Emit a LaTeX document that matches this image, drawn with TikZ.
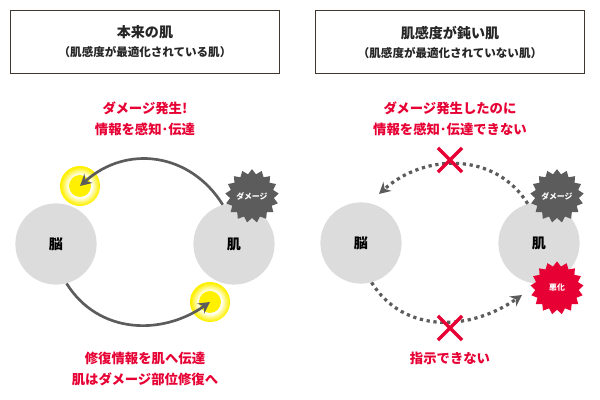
\documentclass[tikz,border=0pt]{standalone}
\usepackage{fontspec}
\setmainfont{Noto Sans CJK JP}
\usepackage{xcolor}
\usetikzlibrary{shapes.geometric, shapes.misc, arrows.meta}
\definecolor{alertred}{HTML}{E60033}
\definecolor{boxline}{HTML}{40372F}
\definecolor{organgray}{HTML}{DCDCDC}
\definecolor{burstgray}{HTML}{5C5C5C}
\definecolor{glowyellow}{HTML}{FFF000}
\pgfdeclareradialshading{glowfade}{\pgfpointorigin}{color(0bp)=(white); color(14bp)=(white); color(24bp)=(glowyellow); color(50bp)=(glowyellow)}
\tikzset{
  titlebox/.style={draw=boxline, line width=0.8pt, minimum width=6.725cm, minimum height=1.575cm, inner sep=0pt, align=center, text=black!85},
  redtext/.style={text=alertred, font=\fontsize{9.5}{12}\selectfont\bfseries, inner sep=0pt},
  organ/.style={circle, fill=organgray, minimum size=2.03cm, inner sep=0pt, font=\fontsize{10}{12}\selectfont\bfseries},
  burst/.style={star, star points=17, star point ratio=1.22, fill=#1, minimum size=1.33cm, inner sep=0pt, text=white, font=\fontsize{5.6}{7}\selectfont\bfseries},
  glowring/.style={circle, shade, shading=glowfade, minimum size=1cm, inner sep=0pt},
  glowcore/.style={circle, fill=glowyellow, minimum size=0.55cm, inner sep=0pt},
  solidarrow/.style={line width=1.9pt, draw=burstgray, -{Stealth[length=8pt, width=8.5pt]}},
  dotarrow/.style={line width=2.3pt, draw=burstgray, dash pattern=on 2.3pt off 2.6pt, -{Stealth[length=8pt, width=8.5pt]}},
  crossmark/.style={cross out, draw=alertred, line width=2.4pt, minimum size=0.52cm, inner sep=0pt}
}
\begin{document}
\begin{tikzpicture}[x=0.025cm, y=0.025cm]
    \useasboundingbox (0, 0) rectangle (600, 400);

    \node[titlebox] (boxL) at (145, 358) {{\fontsize{10}{12}\selectfont\bfseries 本来の肌}\\[1.5pt]{\fontsize{8.2}{10}\selectfont\bfseries （肌感度が最適化されている肌）}};
    \node[titlebox] (boxR) at (450, 358) {{\fontsize{10}{12}\selectfont\bfseries 肌感度が鈍い肌}\\[1.5pt]{\fontsize{8.2}{10}\selectfont\bfseries （肌感度が最適化されていない肌）}};

    \node[redtext] (msgL1) at (145, 292) {ダメージ発生!};
    \node[redtext] (msgL2) at (145, 271) {情報を感知･伝達};
    \node[redtext] (msgL3) at (145, 42) {修復情報を肌へ伝達};
    \node[redtext] (msgL4) at (145, 21) {肌はダメージ部位修復へ};
    \node[redtext] (msgR1) at (450, 292) {ダメージ発生したのに};
    \node[redtext] (msgR2) at (450, 271) {情報を感知･伝達できない};
    \node[redtext] (msgR3) at (450, 42) {指示できない};

    \node[organ] (brainL) at (56, 156) {脳};
    \node[organ] (skinL) at (234, 156) {肌};
    \node[organ] (brainR) at (361, 157) {脳};
    \node[organ] (skinR) at (539, 157) {肌};

    \node[glowring] (glowTop) at (80, 214) {};
    \node[glowcore] (coreTop) at (80, 214) {};
    \node[glowring] (glowBot) at (210, 98) {};
    \node[glowcore] (coreBot) at (210, 98) {};

    \draw[solidarrow] (skinL.106) to[out=122, in=42, looseness=1.1] (coreTop.center);
    \draw[solidarrow] (brainL.-75) to[out=-58, in=215, looseness=1.05] (coreBot.center);

    \coordinate (tipTop) at (379, 206);
    \coordinate (tipBot) at (522, 105);
    \draw[dotarrow] (skinR.106) to[out=122, in=42, looseness=1.05] (tipTop);
    \draw[dotarrow] (brainR.-75) to[out=-58, in=215, looseness=1.05] (tipBot);

    \node[burst=burstgray] (hitL) at (252, 204) {ダメージ};
    \node[burst=burstgray] (hitR) at (557, 204) {ダメージ};
    \node[burst=alertred] (worse) at (557, 112) {悪化};

    \node[crossmark] (crossTop) at (450, 240) {};
    \node[crossmark] (crossBot) at (450, 72) {};
\end{tikzpicture}
\end{document}
